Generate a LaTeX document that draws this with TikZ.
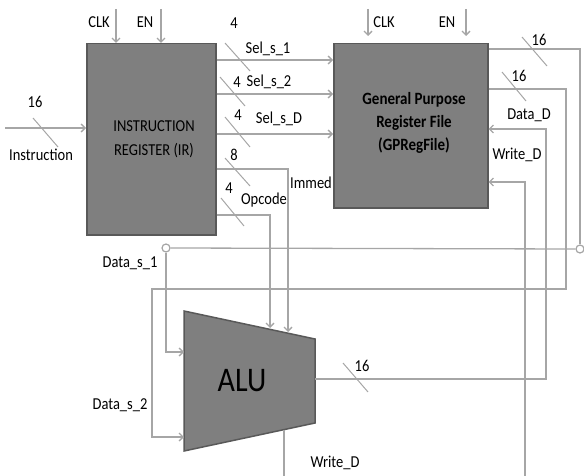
\documentclass[tikz,border=0pt]{standalone}
\usepackage{fontspec}
\setmainfont{Carlito}
\usetikzlibrary{arrows.meta}
\definecolor{wirec}{HTML}{A6A6A6}
\definecolor{boxfill}{HTML}{7F7F7F}
\definecolor{boxline}{HTML}{595959}
\newcommand{\vs}[1]{\scalebox{1}[1.15]{#1}}
\begin{document}
\begin{tikzpicture}[x=1pt,y=-1pt,
  wire/.style={draw=wirec, line width=1.3pt},
  arr/.style={wire,-{Straight Barb[length=4pt,width=8pt]}},
  busmark/.style={draw=wirec, line width=1pt},
  block/.style={draw=boxline, fill=boxfill, line width=1.5pt, inner sep=0pt},
  lbl/.style={font=\fontsize{14.5}{17}\selectfont, inner sep=0pt, text=black},
  term/.style={circle, draw=wirec, fill=white, line width=1.2pt, minimum size=8pt, inner sep=0pt}]
\useasboundingbox (0,0) rectangle (584,476);

% blocks
\node[block, minimum width=129pt, minimum height=191pt, anchor=north west] (ir) at (86,43) {};
\node[block, minimum width=154pt, minimum height=164pt, anchor=north west] (gpr) at (333,43) {};
\draw[block] (184,311) coordinate (alutl) -- (315,339) coordinate (alutr)
  -- (315,423) coordinate (alubr) -- (184,451) coordinate (alubl) -- cycle;

\node[lbl] (irlbl) at (154,140) {\vs{\begin{tabular}{@{}c@{}}INSTRUCTION\\[4pt]REGISTER (IR)\end{tabular}}};
\node[lbl, font=\fontsize{15}{17}\selectfont\bfseries] (gprlbl) at (414,124) {\vs{\begin{tabular}{@{}c@{}}General Purpose\\[3pt]Register File\\[3pt](GPRegFile)\end{tabular}}};
\node[lbl, font=\fontsize{30}{34}\selectfont] (alulbl) at (242,381) {\vs{ALU}};

% coordinates
\coordinate (alu1) at (184,352);
\coordinate (alu2) at (184,437);
\coordinate (aluop) at (270,328);
\coordinate (aluim) at (288,332);
\coordinate (aluout) at (315,379);
\coordinate (alubot) at (284,430);
\coordinate (instr) at (5,128);
\coordinate (irclk) at (116,9);
\coordinate (iren) at (161,9);
\coordinate (gclk) at (368,9);
\coordinate (gen) at (466,9);
\coordinate (wdin) at (525,476);
\coordinate (wdout) at (284,476);

\node[term] (c1) at (166,248) {};
\node[term] (c2) at (580,249) {};

% clocks / enables
\draw[arr] (irclk) -- (irclk |- ir.north);
\draw[arr] (iren) -- (iren |- ir.north);
\draw[arr] (gclk) -- (368,36);
\draw[arr] (gen) -- (466,36);
\node[lbl] (l1) at (99,22) {\vs{CLK}};
\node[lbl] (l2) at (145,22) {\vs{EN}};
\node[lbl] (l3) at (384,22) {\vs{CLK}};
\node[lbl] (l4) at (447,22) {\vs{EN}};

% instruction input
\draw[arr] (instr) -- (ir.west |- instr);
\draw[busmark] (33,118) -- (58,147);
\node[lbl] (l5) at (35,102) {\vs{16}};
\node[lbl] (l6) at (41,155) {\vs{Instruction}};

% selectors
\draw[arr] (ir.east |- 0,60) -- (gpr.west |- 0,60);
\draw[arr] (ir.east |- 0,94) -- (gpr.west |- 0,94);
\draw[arr] (ir.east |- 0,134) -- (gpr.west |- 0,134);
\draw[busmark] (225,43) -- (250,71);
\draw[busmark] (220,77) -- (245,106);
\draw[busmark] (225,117) -- (250,147);
\node[lbl] (l7) at (234,23) {\vs{4}};
\node[lbl] (l8) at (268,49) {\vs{Sel\_s\_1}};
\node[lbl] (l9) at (237,82) {\vs{4}};
\node[lbl] (l10) at (269,82) {\vs{Sel\_s\_2}};
\node[lbl] (l11) at (238,115) {\vs{4}};
\node[lbl] (l12) at (279,119) {\vs{Sel\_s\_D}};

% immediate and opcode
\draw[arr] (ir.east |- 0,169) -| (aluim);
\draw[arr] (ir.east |- 0,215) -| (aluop);
\draw[busmark] (225,158) -- (250,186);
\draw[busmark] (221,198) -- (244,226);
\node[lbl] (l13) at (234,155) {\vs{8}};
\node[lbl] (l14) at (311,183) {\vs{Immed}};
\node[lbl] (l15) at (229,188) {\vs{4}};
\node[lbl] (l16) at (264,200) {\vs{Opcode}};

% GPR outputs
\draw[wire] (gpr.east |- 0,49) -- (580,49) -- (c2.north);
\draw[wire] (c2.west) -- (c1.east);
\draw[arr] (c1.south) |- (alu1);
\draw[arr] (gpr.east |- 0,89) -| (566,289) -| (152,437) -- (alu2);
\draw[busmark] (522,37) -- (547,66);
\draw[busmark] (502,72) -- (526,101);
\node[lbl] (l17) at (539,40) {\vs{16}};
\node[lbl] (l18) at (519,76) {\vs{16}};
\node[lbl] (l19) at (130,263) {\vs{Data\_s\_1}};
\node[lbl] (l20) at (120,405) {\vs{Data\_s\_2}};

% ALU result back to GPR
\draw[arr] (aluout) -- (546,379) -- (546,129) -- (gpr.east |- 0,129);
\draw[busmark] (343,363) -- (368,392);
\node[lbl] (l21) at (362,366) {\vs{16}};
\node[lbl] (l22) at (529,115) {\vs{Data\_D}};

% write enable
\draw[arr] (wdin) -- (525,182) -- (gpr.east |- 0,182);
\node[lbl] (l23) at (517,155) {\vs{Write\_D}};
\draw[wire] (alubot) -- (wdout);
\node[lbl] (l24) at (335,463) {\vs{Write\_D}};
\end{tikzpicture}
\end{document}
